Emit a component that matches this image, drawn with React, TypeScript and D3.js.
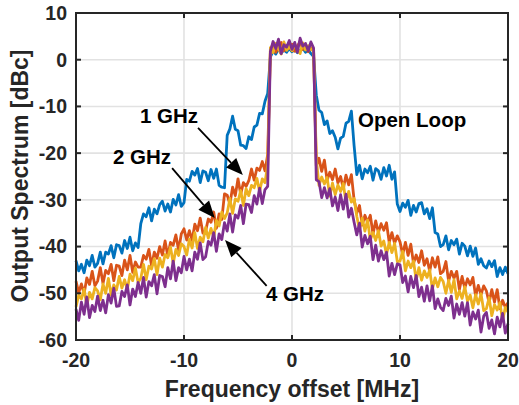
import React from "react";
import * as d3 from "d3";

// Measured spectra, sampled every 0.25 MHz from -20 MHz to +20 MHz (161 points each)
const freqStartMHz = -20;
const freqStepMHz = 0.25;

const openLoop = [
  -43.0, -45.2, -43.8, -45.6, -42.9, -44.1, -41.9, -44.4,
  -43.6, -41.2, -43.7, -41.2, -41.6, -39.8, -42.4, -39.6,
  -39.8, -41.4, -38.7, -40.4, -38.0, -40.9, -39.2, -40.2,
  -35.1, -33.0, -33.6, -31.7, -34.5, -32.0, -33.0, -31.0,
  -30.3, -32.4, -30.9, -32.6, -29.9, -31.1, -28.9, -31.4,
  -30.6, -25.6, -26.0, -23.9, -24.7, -23.3, -26.3, -23.8,
  -24.1, -25.9, -23.5, -25.4, -23.4, -26.9, -27.3, -27.4,
  -16.2, -14.8, -12.1, -14.9, -15.2, -18.3, -18.4, -19.0,
  -16.5, -17.1, -14.4, -14.0, -11.5, -11.6, -8.9, -7.2,
  0.6, 1.9, 1.2, 2.3, 1.4, 2.1, 1.6, 2.4,
  1.7, 2.2, 1.5, 2.0, 2.5, 1.6, 2.2, 1.3,
  0.7, -7.6, -10.8, -11.3, -13.9, -13.1, -15.8, -15.2,
  -16.6, -19.1, -16.8, -16.4, -13.6, -13.2, -11.0, -18.4,
  -24.6, -22.6, -25.5, -23.4, -24.2, -22.8, -25.8, -23.3,
  -23.8, -25.6, -23.1, -24.9, -22.6, -25.6, -24.0, -30.9,
  -32.5, -30.7, -31.6, -30.1, -33.3, -31.2, -32.6, -30.8,
  -30.6, -33.0, -31.9, -34.0, -31.7, -37.0, -37.3, -40.0,
  -39.6, -37.7, -40.7, -38.7, -39.6, -38.4, -41.6, -39.3,
  -39.9, -42.0, -39.9, -42.1, -40.3, -43.8, -42.6, -44.1,
  -44.6, -43.1, -44.3, -43.0, -46.4, -44.5, -46.0, -44.4,
  -45.8,
];

const loop1GHz = [
  -47.4, -49.9, -48.0, -50.1, -46.7, -48.1, -45.3, -48.4,
  -47.4, -44.5, -47.9, -45.1, -45.8, -43.8, -47.3, -44.0,
  -44.2, -46.2, -42.9, -45.0, -41.9, -45.5, -43.3, -44.4,
  -44.4, -41.9, -42.7, -40.6, -44.1, -41.2, -42.5, -40.0,
  -41.8, -38.8, -42.1, -39.1, -39.7, -37.5, -40.8, -37.3,
  -36.2, -38.6, -36.6, -38.7, -35.2, -36.6, -33.9, -37.1,
  -36.7, -34.1, -34.8, -32.6, -36.1, -33.0, -34.2, -28.7,
  -29.0, -30.9, -27.3, -29.1, -25.5, -28.8, -26.3, -27.1,
  -25.9, -23.4, -25.8, -23.2, -23.7, -21.8, -23.8, -20.3,
  2.1, 3.4, 1.6, 2.8, 3.7, 1.9, 3.0, 2.4,
  3.3, 1.8, 2.9, 3.9, 2.2, 3.1, 1.7, 2.6,
  2.0, -22.7, -21.1, -23.9, -21.5, -25.8, -24.1, -25.7,
  -23.4, -26.4, -25.0, -27.6, -24.7, -26.8, -24.6, -30.0,
  -32.8, -31.2, -35.4, -33.3, -34.8, -33.3, -37.3, -34.5,
  -37.0, -35.1, -36.5, -34.9, -39.1, -37.0, -39.3, -37.7,
  -39.0, -41.7, -39.1, -41.9, -39.5, -43.6, -41.8, -43.4,
  -40.9, -44.0, -42.6, -45.3, -42.4, -44.4, -42.2, -45.8,
  -45.3, -43.2, -47.4, -45.3, -46.8, -45.3, -49.2, -46.4,
  -48.9, -46.9, -48.2, -46.6, -50.6, -48.3, -50.3, -48.4,
  -49.5, -52.0, -49.2, -51.9, -49.2, -53.3, -51.5, -53.0,
  -52.0,
];

const loop2GHz = [
  -52.9, -50.4, -51.2, -49.1, -52.7, -49.8, -51.2, -48.8,
  -49.5, -51.4, -48.0, -50.0, -46.8, -50.4, -48.2, -49.3,
  -46.4, -48.9, -47.1, -49.2, -45.9, -47.3, -44.6, -47.7,
  -46.8, -43.8, -47.1, -44.2, -44.8, -42.6, -46.0, -42.5,
  -44.4, -41.7, -42.4, -40.1, -43.6, -40.6, -41.9, -39.4,
  -40.0, -41.8, -38.4, -40.3, -37.0, -40.4, -38.0, -39.0,
  -35.9, -38.2, -36.1, -38.0, -34.4, -35.6, -32.6, -34.0,
  -32.8, -29.7, -32.9, -29.8, -30.3, -28.0, -31.2, -27.6,
  -29.1, -26.9, -27.4, -25.4, -28.2, -25.5, -26.3, -22.5,
  2.6, 1.5, 3.5, 2.3, 1.2, 3.8, 2.0, 2.9,
  1.9, 3.2, 2.4, 1.3, 3.6, 2.1, 3.0, 2.3,
  1.8, -21.2, -26.9, -25.1, -26.6, -25.2, -29.2, -26.4,
  -28.9, -26.8, -28.2, -26.5, -30.6, -28.2, -30.5, -29.7,
  -33.5, -36.4, -33.9, -36.7, -34.3, -38.6, -37.0, -38.7,
  -36.6, -39.9, -38.8, -41.7, -39.1, -41.3, -39.3, -43.2,
  -43.1, -41.0, -45.2, -43.1, -44.5, -43.1, -47.2, -44.5,
  -47.2, -45.2, -46.6, -45.0, -49.1, -46.7, -48.6, -46.6,
  -47.5, -50.0, -47.2, -49.8, -47.1, -51.2, -49.5, -51.1,
  -48.6, -51.7, -50.4, -53.1, -50.3, -52.3, -50.1, -53.7,
  -53.3, -50.9, -54.8, -52.4, -53.6, -52.0, -55.9, -53.0,
  -54.0,
];

const loop4GHz = [
  -53.4, -55.8, -51.9, -54.5, -50.8, -55.2, -52.6, -53.9,
  -50.6, -53.7, -51.5, -54.2, -50.3, -52.1, -48.9, -52.8,
  -52.7, -49.6, -50.7, -48.2, -52.5, -49.1, -50.7, -47.7,
  -50.0, -46.6, -50.8, -47.5, -48.4, -46.0, -50.1, -46.2,
  -46.4, -48.6, -44.5, -46.9, -43.1, -47.3, -44.5, -45.6,
  -42.1, -45.0, -42.7, -45.2, -41.2, -42.7, -39.2, -42.8,
  -42.2, -38.9, -39.7, -37.0, -41.0, -37.3, -38.5, -34.9,
  -36.7, -33.0, -36.9, -33.2, -33.9, -31.2, -35.1, -30.9,
  -31.0, -32.7, -29.1, -30.9, -27.5, -30.8, -27.8, -27.1,
  1.8, 3.9, 2.4, 4.4, 1.3, 3.2, 2.7, 4.1,
  2.2, 3.7, 1.6, 4.6, 2.9, 3.5, 1.9, 3.8,
  2.5, -25.7, -26.1, -29.5, -27.4, -29.6, -27.6, -31.3,
  -29.4, -32.3, -28.9, -32.0, -28.8, -33.7, -31.8, -34.8,
  -37.5, -35.0, -40.1, -37.6, -39.4, -37.8, -42.8, -39.7,
  -43.1, -40.9, -42.8, -41.2, -46.3, -43.6, -46.0, -43.7,
  -43.9, -47.7, -46.3, -49.7, -46.4, -48.8, -46.2, -50.7,
  -48.7, -51.7, -48.4, -51.6, -48.4, -53.3, -51.2, -53.0,
  -53.7, -51.1, -52.6, -50.6, -55.3, -52.3, -54.5, -52.0,
  -54.9, -52.0, -56.8, -54.0, -55.5, -53.6, -58.3, -54.9,
  -54.1, -57.5, -55.7, -58.7, -55.1, -57.2, -54.3, -58.5,
  -56.5,
];

const xTicks = [-20, -10, 0, 10, 20];
const yTicks = [-60, -50, -40, -30, -20, -10, 0, 10];

const seriesList = [
  { name: "Open Loop", values: openLoop, color: "#0072BD" },
  { name: "1 GHz", values: loop1GHz, color: "#D95319" },
  { name: "2 GHz", values: loop2GHz, color: "#EDB120" },
  { name: "4 GHz", values: loop4GHz, color: "#7E2F8E" },
];

const W = 519;
const H = 405;
const plot = { left: 76, right: 508, top: 13, bottom: 340 };
const FONT = "'Liberation Sans', Arial, Helvetica, sans-serif";
const AXIS_COLOR = "#262626";

const x = d3.scaleLinear().domain([-20, 20]).range([plot.left, plot.right]);
const y = d3.scaleLinear().domain([-60, 10]).range([plot.bottom, plot.top]);

const line = d3
  .line<number>()
  .x((_, i) => x(freqStartMHz + i * freqStepMHz))
  .y((v) => y(v));

// Annotation arrows, endpoints in data units [MHz, dBc]
const arrows = [
  { label: "1 GHz", from: [-8.7, -14.6], to: [-4.55, -24.7] },
  { label: "2 GHz", from: [-11.1, -23.2], to: [-7.15, -33.9] },
  { label: "4 GHz", from: [-2.35, -48.4], to: [-6.2, -38.6] },
];

function Arrow({ from, to }: { from: number[]; to: number[] }) {
  const x1 = x(from[0]);
  const y1 = y(from[1]);
  const x2 = x(to[0]);
  const y2 = y(to[1]);
  const ang = Math.atan2(y2 - y1, x2 - x1);
  const len = 17;
  const half = 7;
  const bx = x2 - len * Math.cos(ang);
  const by = y2 - len * Math.sin(ang);
  const px = -Math.sin(ang) * half;
  const py = Math.cos(ang) * half;
  return (
    <g>
      <line x1={x1} y1={y1} x2={bx} y2={by} stroke="#000" strokeWidth={1.8} />
      <polygon
        points={`${x2},${y2} ${bx + px},${by + py} ${bx - px},${by - py}`}
        fill="#000"
      />
    </g>
  );
}

export default function App() {
  return (
    <svg
      width={W}
      height={H}
      viewBox={`0 0 ${W} ${H}`}
      style={{ position: "absolute", left: 0, top: 0, background: "#fff" }}
    >
      <rect x={0} y={0} width={W} height={H} fill="#fff" />

      {/* grid */}
      <g stroke="#e2e2e2" strokeWidth={1.6}>
        {xTicks.map((t) => (
          <line key={`gx${t}`} x1={x(t)} x2={x(t)} y1={plot.top} y2={plot.bottom} />
        ))}
        {yTicks.map((t) => (
          <line key={`gy${t}`} x1={plot.left} x2={plot.right} y1={y(t)} y2={y(t)} />
        ))}
      </g>

      {/* spectra */}
      <g fill="none" strokeWidth={2.8} strokeLinejoin="round">
        {seriesList.map((s) => (
          <path key={s.name} d={line(s.values) || ""} stroke={s.color} />
        ))}
      </g>

      {/* axes box and ticks */}
      <g stroke={AXIS_COLOR} strokeWidth={2} fill="none">
        <rect
          x={plot.left}
          y={plot.top}
          width={plot.right - plot.left}
          height={plot.bottom - plot.top}
        />
        {xTicks.map((t) => (
          <g key={`tx${t}`}>
            <line x1={x(t)} x2={x(t)} y1={plot.bottom} y2={plot.bottom - 5} />
            <line x1={x(t)} x2={x(t)} y1={plot.top} y2={plot.top + 5} />
          </g>
        ))}
        {yTicks.map((t) => (
          <g key={`ty${t}`}>
            <line x1={plot.left} x2={plot.left + 5} y1={y(t)} y2={y(t)} />
            <line x1={plot.right} x2={plot.right - 5} y1={y(t)} y2={y(t)} />
          </g>
        ))}
      </g>

      {/* tick labels */}
      <g fontFamily={FONT} fontWeight="bold" fontSize={19.5} fill={AXIS_COLOR}>
        {xTicks.map((t) => (
          <text key={`lx${t}`} x={x(t)} y={367} textAnchor="middle">
            {t}
          </text>
        ))}
        {yTicks.map((t) => (
          <text key={`ly${t}`} x={67} y={y(t)} dy="0.35em" textAnchor="end">
            {t}
          </text>
        ))}
      </g>

      {/* axis labels */}
      <g fontFamily={FONT} fontWeight="bold" fontSize={23} fill={AXIS_COLOR}>
        <text x={x(0)} y={397} textAnchor="middle">
          Frequency offset [MHz]
        </text>
        <text transform="translate(28,176) rotate(-90)" textAnchor="middle">
          Output Spectrum [dBc]
        </text>
      </g>

      {/* annotations */}
      <g fontFamily={FONT} fontWeight="bold" fontSize={20.5} fill="#000">
        <text x={358} y={127}>Open Loop</text>
        <text x={140} y={123}>1 GHz</text>
        <text x={113} y={164}>2 GHz</text>
        <text x={266} y={301}>4 GHz</text>
      </g>
      {arrows.map((a) => (
        <Arrow key={a.label} from={a.from} to={a.to} />
      ))}
    </svg>
  );
}
